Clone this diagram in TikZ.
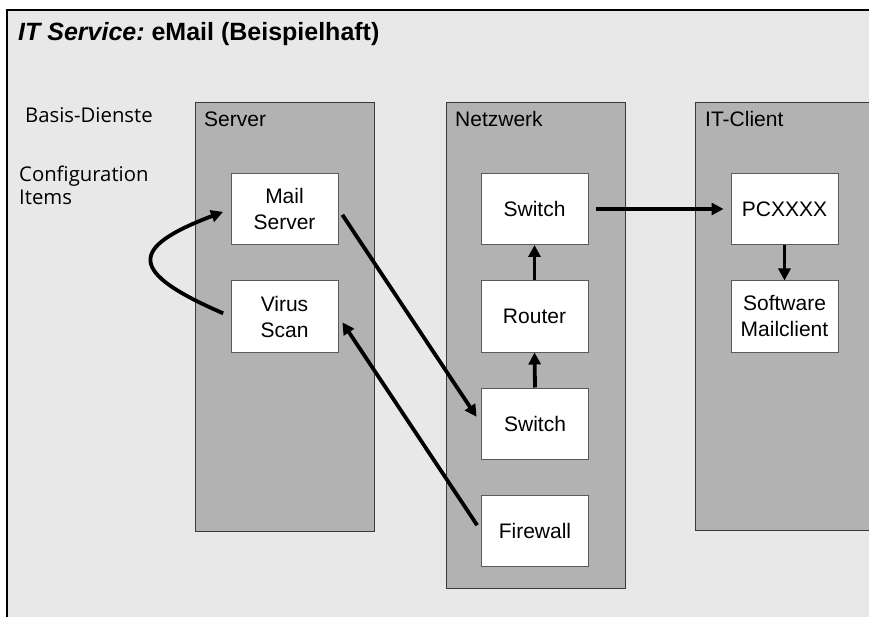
\documentclass[tikz,border=0pt]{standalone}
\usepackage{fontspec}
\setmainfont{Liberation Sans}
\newfontfamily\humfont{Open Sans}
\usetikzlibrary{arrows.meta}
\definecolor{bgc}{HTML}{E8E8E8}
\definecolor{panelc}{HTML}{B2B2B2}
\definecolor{panelline}{HTML}{3A3A3A}
\definecolor{boxline}{HTML}{5A5A5A}
\begin{document}
\begin{tikzpicture}[x=1pt,y=-1pt,
  panel/.style={draw=panelline,fill=panelc,line width=1pt,anchor=north west,inner sep=0pt},
  item/.style={draw=boxline,fill=white,line width=1pt,minimum width=107pt,minimum height=71pt,inner sep=0pt,align=center,font=\fontsize{21}{26}\selectfont},
  plabel/.style={anchor=base west,inner sep=0pt,font=\fontsize{21}{26}\selectfont},
  side/.style={anchor=base west,inner sep=0pt,font=\humfont\fontsize{20.3}{23}\selectfont},
  flow/.style={line width=3.8pt,-{Triangle[length=12pt,width=12pt]}}
]
\useasboundingbox (0,0) rectangle (869,617);
\fill[white] (0,0) rectangle (869,617);
\fill[bgc] (7,10) rectangle (869,617);
\draw[line width=1.2pt,black] (7,617) -- (7,10) -- (869,10);

% title
\node[anchor=base west,inner sep=0pt,font=\fontsize{25}{30}\selectfont\bfseries] (title) at (18,41) {\itshape IT Service:\upshape\ eMail (Beispielhaft)};

% side labels
\node[side] (basis) at (25,123) {Basis-Dienste};
\node[side] (ci) at (19,182) {Configuration};
\node[side] (items) at (19,205) {Items};

% panels
\node[panel,minimum width=179pt,minimum height=429pt] (pserver) at (195,102) {};
\node[panel,minimum width=179pt,minimum height=486pt] (pnet) at (446,102) {};
\node[panel,minimum width=180pt,minimum height=428pt] (pclient) at (695,102) {};
\node[plabel] (lserver) at (204,127) {Server};
\node[plabel] (lnet) at (455,127) {Netzwerk};
\node[plabel] (lclient) at (705,127) {IT-Client};

% items
\node[item] (ms) at (284.5,209) {Mail\\Server};
\node[item] (vs) at (284.5,316.5) {Virus\\Scan};
\node[item] (sw1) at (534.5,209) {Switch};
\node[item] (rt) at (534.5,316.5) {Router};
\node[item] (sw2) at (535,423.5) {Switch};
\node[item] (fw) at (535,531) {Firewall};
\node[item] (pc) at (784.5,209) {PCXXXX};
\node[item] (mc) at (784.5,316.5) {Software\\Mailclient};

% connectors
\draw[flow,shorten <=7pt,shorten >=7pt] (sw1.east) -- (pc.west);
\draw[flow] (pc.south) -- (mc.north);
\draw[flow] (rt.north) -- (sw1.south);
\draw[flow] (sw2.north) -- (rt.south);
\draw[flow,shorten <=7pt,shorten >=8pt] (ms.east) -- (sw2.west);
\draw[flow,shorten <=7pt,shorten >=7pt] (fw.west) -- (vs.east);
\draw[flow,shorten <=8pt,shorten >=8pt] (vs.west) .. controls (128,272) and (128,248) .. (ms.west);
\end{tikzpicture}
\end{document}
